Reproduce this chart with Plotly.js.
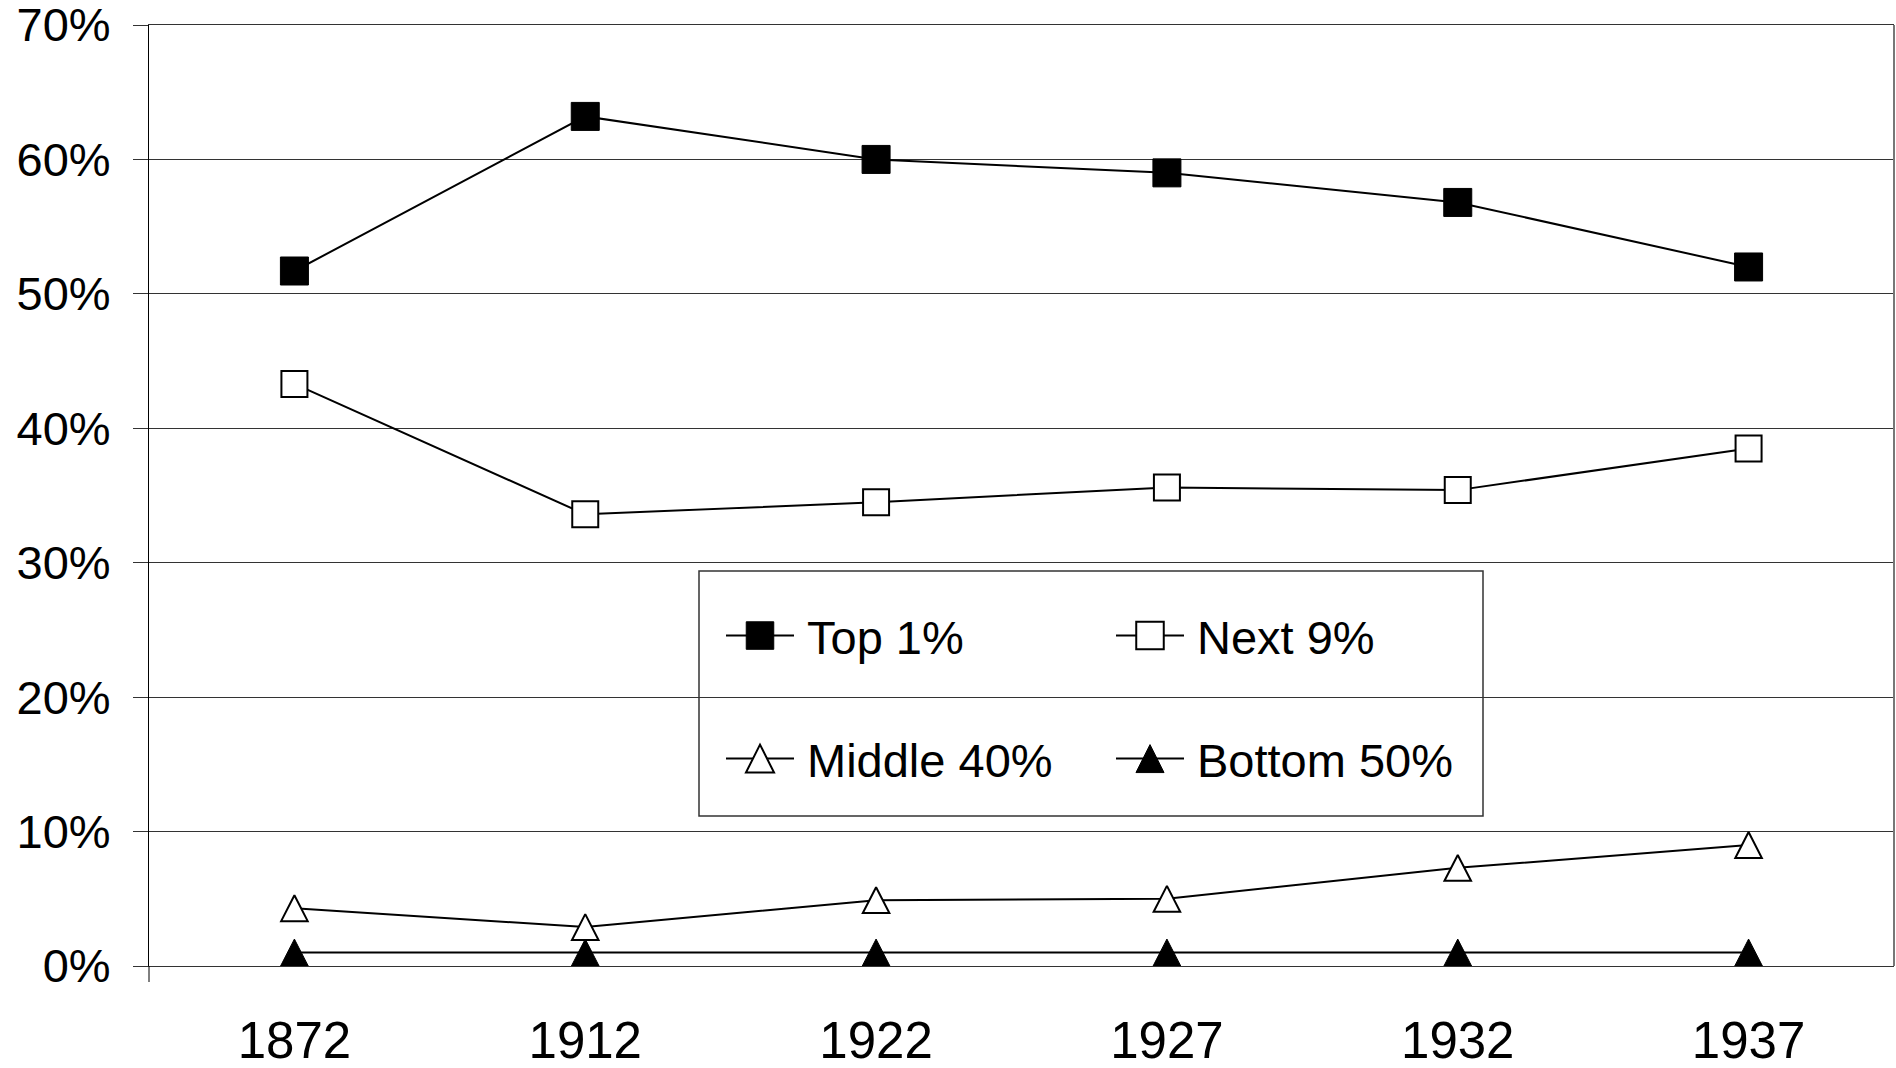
<!DOCTYPE html>
<html>
<head>
<meta charset="utf-8">
<script src="https://cdn.plot.ly/plotly-3.0.1.min.js"></script>
<style>html,body{margin:0;padding:0;background:#fff;}</style>
</head>
<body>
<div id="chart" style="width:1896px;height:1068px;"></div>
<script>
const years = ['1872', '1912', '1922', '1927', '1932', '1937'];
const top1 = [51.7, 63.2, 60.0, 59.0, 56.8, 52.0];
const next9 = [43.3, 33.6, 34.5, 35.6, 35.4, 38.5];
const middle40 = [4.3, 2.9, 4.9, 5.0, 7.3, 9.0];
const bottom50 = [1.0, 1.0, 1.0, 1.0, 1.0, 1.0];
const seriesNames = ['Top 1%', 'Next 9%', 'Middle 40%', 'Bottom 50%'];
const yTicks = [0, 10, 20, 30, 40, 50, 60, 70];

const FONT = 'Liberation Sans, Arial, sans-serif';
const lineStyle = {color: '#000', width: 2};
const symbols = ['square', 'square', 'triangle-up', 'triangle-up'];

const traces = [
  {x: years, y: top1, name: seriesNames[0], legend: 'legend', type: 'scatter', mode: 'lines+markers',
   line: lineStyle, marker: {symbol: symbols[0], size: 28, color: '#000', line: {color: '#000', width: 1}}},
  {x: years, y: next9, name: seriesNames[1], legend: 'legend', type: 'scatter', mode: 'lines+markers',
   line: lineStyle, marker: {symbol: symbols[1], size: 26, color: '#fff', line: {color: '#000', width: 2}}},
  {x: years, y: middle40, name: seriesNames[2], legend: 'legend2', type: 'scatter', mode: 'lines+markers',
   line: lineStyle, marker: {symbol: symbols[2], size: 23, color: '#fff', line: {color: '#000', width: 2}}},
  {x: years, y: bottom50, name: seriesNames[3], legend: 'legend2', type: 'scatter', mode: 'lines+markers',
   line: lineStyle, marker: {symbol: symbols[3], size: 24, color: '#000', line: {color: '#000', width: 1}}}
];

const plotH = 941;
const legendCommon = {
  orientation: 'h', xanchor: 'left', yanchor: 'middle',
  bgcolor: 'rgba(0,0,0,0)', borderwidth: 0,
  font: {family: FONT, size: 47, color: '#000'},
  itemwidth: 84, entrywidth: 291, traceorder: 'normal',
  itemclick: false, itemdoubleclick: false
};

const layout = {
  width: 1896, height: 1068,
  margin: {l: 149, r: 2, t: 25, b: 102, pad: 0},
  paper_bgcolor: '#fff', plot_bgcolor: '#fff',
  font: {family: FONT, color: '#000'},
  showlegend: true,
  xaxis: {
    type: 'category', categoryorder: 'array', categoryarray: years,
    range: [-0.5, years.length - 0.5],
    showgrid: false, zeroline: false,
    showline: true, linecolor: '#333', linewidth: 1, mirror: true,
    ticks: '', tickfont: {family: FONT, size: 51, color: '#000'},
    ticklabelstandoff: 30, ticklabeloverflow: 'allow'
  },
  yaxis: {
    range: [0, 70], tickvals: yTicks, ticktext: yTicks.map(v => v + '%'),
    showgrid: true, gridcolor: '#333', gridwidth: 1,
    zeroline: false, showline: true, linecolor: '#000', linewidth: 1,
    ticks: 'outside', ticklen: 15, tickcolor: '#333', tickwidth: 1,
    tickfont: {family: FONT, size: 47, color: '#000'},
    ticklabelstandoff: 13, ticklabeloverflow: 'allow'
  },
  legend: Object.assign({}, legendCommon, {x: (713 - 149) / 1745, y: (966 - 636) / plotH}),
  legend2: Object.assign({}, legendCommon, {x: (713 - 149) / 1745, y: (966 - 759) / plotH}),
  shapes: [
    {type: 'rect', xref: 'paper', yref: 'paper', layer: 'between',
     x0: (699 - 149) / 1745, x1: (1483 - 149) / 1745,
     y0: (966 - 816) / plotH, y1: (966 - 571) / plotH,
     fillcolor: '#fff', line: {color: '#333', width: 1.5}},
    {type: 'line', xref: 'paper', yref: 'paper', layer: 'above',
     x0: 1, x1: 1, y0: 0, y1: 1, line: {color: '#777', width: 2}},
    {type: 'line', xref: 'paper', yref: 'paper', layer: 'above',
     x0: 0, x1: 0, y0: 0, y1: -16 / plotH, line: {color: '#000', width: 1}}
  ]
};

function appendTransform(el, extra) {
  el.setAttribute('transform', (el.getAttribute('transform') || '') + ' ' + extra);
  el.style.vectorEffect = 'non-scaling-stroke';
}

function traceIndexOf(el) {
  const cd = el.__data__;
  const t = cd && cd[0] && cd[0].trace;
  return t ? t.index : -1;
}

Plotly.newPlot('chart', traces, layout, {displayModeBar: false, staticPlot: true}).then(gd => {
  // Excel-style triangles: as tall as wide, centred on the data point
  gd.querySelectorAll('.scatterlayer .trace').forEach(tr => {
    const i = traceIndexOf(tr);
    if (i < 0 || symbols[i] !== 'triangle-up') return;
    const r = traces[i].marker.size / 2;
    tr.querySelectorAll('.points path.point').forEach(p => appendTransform(p, 'translate(0,' + (r * 0.375) + ') scale(1,1.5)'));
  });
  // Larger legend keys (Plotly caps legend markers at 16px)
  gd.querySelectorAll('g.legend .traces, g.legend2 .traces').forEach(tr => {
    const i = traceIndexOf(tr);
    const pts = tr.querySelectorAll('path.scatterpts');
    const line = tr.querySelector('path.js-line');
    if (pts.length && line) {
      const pr = pts[0].getBoundingClientRect();
      const cx = pr.left + pr.width / 2;
      const m = line.getScreenCTM();
      const lx = (cx - m.e) / m.a;
      line.setAttribute('d', 'M' + (lx - 34) + ',0h68');
    }
    pts.forEach(p => {
      if (symbols[i] === 'triangle-up') appendTransform(p, 'translate(0,4.7) scale(1.52,2.33)');
      else appendTransform(p, 'scale(1.72)');
    });
  });
});
</script>
</body>
</html>
